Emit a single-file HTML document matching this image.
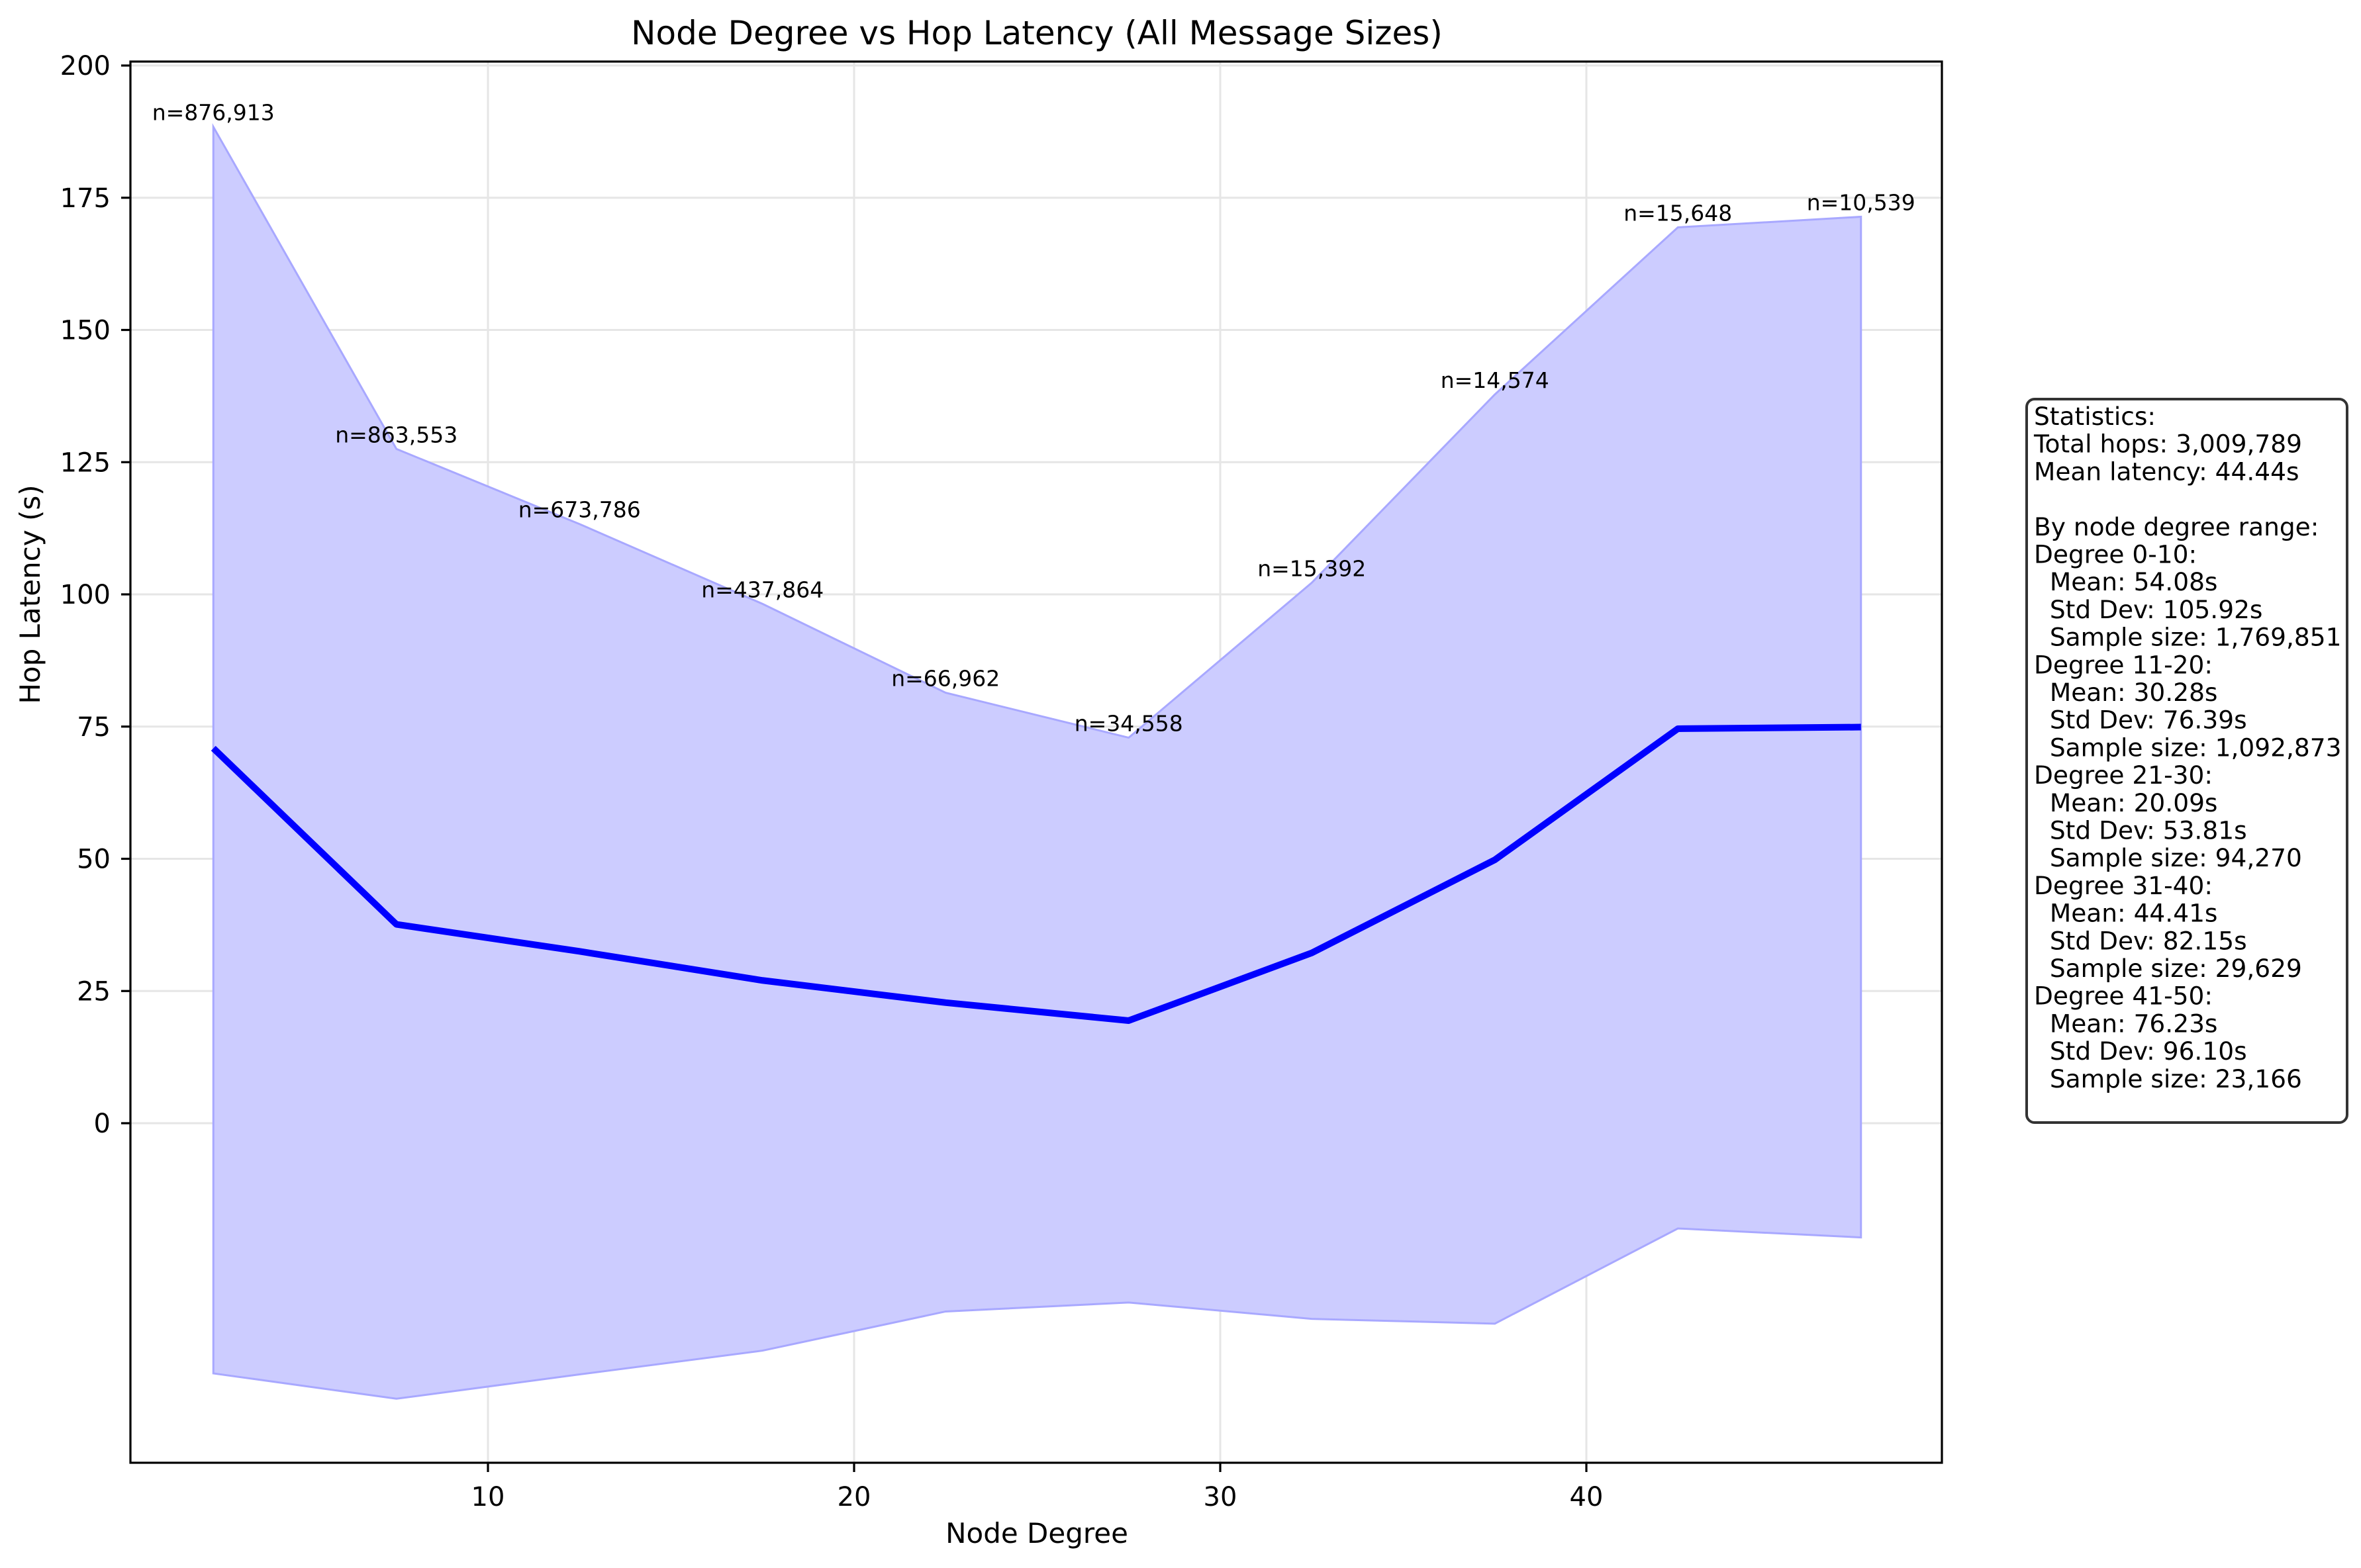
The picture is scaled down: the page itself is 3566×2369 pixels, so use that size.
<!DOCTYPE html>
<html><head><meta charset="utf-8">
<style>
html,body{margin:0;padding:0;background:#fff;}
svg{display:block;font-family:"DejaVu Sans","Liberation Sans",sans-serif;}
</style></head>
<body>
<svg id="chart" width="3566" height="2369" viewBox="0 0 3566 2369" xmlns="http://www.w3.org/2000/svg">
<rect width="3566" height="2369" fill="#fff"/>
<g id="grid"></g>
<g id="series"></g>
<g id="ticks"></g>
<rect x="197" y="93" width="2736" height="2117" fill="none" stroke="#000" stroke-width="3.2"/>
<text x="1566" y="67" font-size="50" text-anchor="middle">Node Degree vs Hop Latency (All Message Sizes)</text>
<text x="1566" y="2331" font-size="42" text-anchor="middle">Node Degree</text>
<text x="60" y="898" font-size="42" text-anchor="middle" transform="rotate(-90 60 898)">Hop Latency (s)</text>
<g>
<rect x="3061" y="603" width="484" height="1093" rx="12" fill="#fff" stroke="#333" stroke-width="4"/>
<text id="statsText" x="3072" y="642" font-size="37.5"></text>
</g>
</svg>
<script>
const degrees = [2.5, 7.5, 12.5, 17.5, 22.5, 27.5, 32.5, 37.5, 42.5, 47.5];
const meanLatency = [70.9, 37.6, 32.5, 27.0, 22.8, 19.4, 32.2, 49.8, 74.6, 74.9];
const upperBand = [188.4, 127.5, 113.3, 98.2, 81.4, 72.9, 102.2, 137.8, 169.4, 171.4];
const lowerBand = [-47.3, -52.1, -47.5, -43.0, -35.6, -33.9, -37.0, -37.9, -19.9, -21.6];
const countLabels = ["n=876,913","n=863,553","n=673,786","n=437,864","n=66,962","n=34,558","n=15,392","n=14,574","n=15,648","n=10,539"];
const xTicks = [10, 20, 30, 40];
const yTicks = [0, 25, 50, 75, 100, 125, 150, 175, 200];
const statsLines = ["Statistics:","Total hops: 3,009,789","Mean latency: 44.44s","","By node degree range:",
"Degree 0-10:","  Mean: 54.08s","  Std Dev: 105.92s","  Sample size: 1,769,851",
"Degree 11-20:","  Mean: 30.28s","  Std Dev: 76.39s","  Sample size: 1,092,873",
"Degree 21-30:","  Mean: 20.09s","  Std Dev: 53.81s","  Sample size: 94,270",
"Degree 31-40:","  Mean: 44.41s","  Std Dev: 82.15s","  Sample size: 29,629",
"Degree 41-50:","  Mean: 76.23s","  Std Dev: 96.10s","  Sample size: 23,166"];

const NS = "http://www.w3.org/2000/svg";
const X0 = 197, X1 = 2933, Y0 = 93, Y1 = 2210;
function xs(v){ return 184 + v * 55.3; }
function ys(v){ return 99 + (200 - v) * 7.99; }
function mk(tag, attrs, parent){ const e = document.createElementNS(NS, tag); for (const k in attrs) e.setAttribute(k, attrs[k]); parent.appendChild(e); return e; }

const grid = document.getElementById('grid');
const ticks = document.getElementById('ticks');
const series = document.getElementById('series');

xTicks.forEach(t => {
  const x = xs(t);
  const g = mk('line', {x1:x, x2:x, y1:Y0, y2:Y1, stroke:'#e6e6e6', 'stroke-width':3}, grid);
  
  
  const tk = mk('line', {x1:x, x2:x, y1:Y1, y2:Y1+14, stroke:'#000', 'stroke-width':3.2}, ticks);
  
  
  const lb = mk('text', {x:x, y:2275, 'font-size':40, 'text-anchor':'middle'}, ticks);
  lb.textContent = t;
  
  
});
yTicks.forEach(t => {
  const y = ys(t);
  const g = mk('line', {x1:X0, x2:X1, y1:y, y2:y, stroke:'#e6e6e6', 'stroke-width':3}, grid);
  
  
  const tk = mk('line', {x1:X0-14, x2:X0, y1:y, y2:y, stroke:'#000', 'stroke-width':3.2}, ticks);
  
  
  const lb = mk('text', {x:167, y:y+14, 'font-size':40, 'text-anchor':'end'}, ticks);
  lb.textContent = t;
  
  
});

let pts = degrees.map((d,i) => xs(d)+','+ys(upperBand[i]));
for (let i = degrees.length-1; i >= 0; i--) pts.push(xs(degrees[i])+','+ys(lowerBand[i]));
const band = mk('polygon', {points:pts.join(' '), fill:'#ccccff', stroke:'#a8a8ff', 'stroke-width':3}, series);



const line = mk('polyline', {points:degrees.map((d,i)=>xs(d)+','+ys(meanLatency[i])).join(' '), fill:'none', stroke:'#0000ff', 'stroke-width':10, 'stroke-linejoin':'round'}, series);



degrees.forEach((d,i) => {
  const t = mk('text', {x:xs(d), y:ys(upperBand[i])-10, 'font-size':33, 'text-anchor':'middle'}, series);
  t.textContent = countLabels[i];
  
  
});

const st = document.getElementById('statsText');
statsLines.forEach((s,i) => {
  const ts = document.createElementNS(NS, 'tspan');
  ts.setAttribute('x', 3072);
  ts.setAttribute('y', 642 + i*41.7);
  ts.setAttribute('xml:space', 'preserve');
  ts.style.whiteSpace = 'pre';
  ts.textContent = s === "" ? " " : s;
  
  
  st.appendChild(ts);
});
</script>
</body></html>
